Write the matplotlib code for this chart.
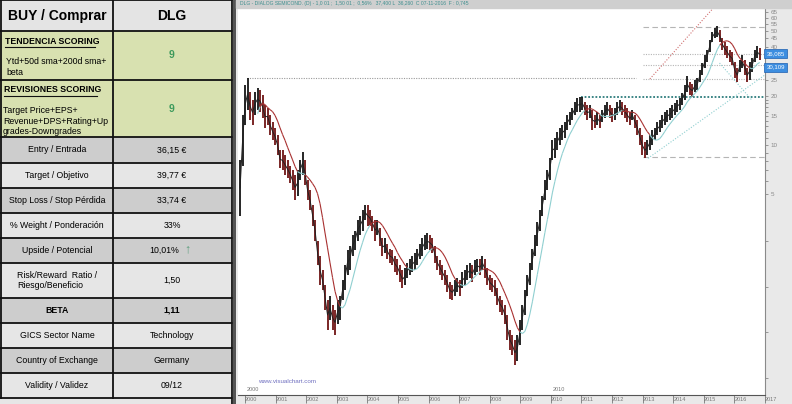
import numpy as np
import pandas as pd
import matplotlib
matplotlib.use('Agg')
import matplotlib.pyplot as plt
import matplotlib.dates as mdates
from matplotlib.collections import LineCollection
from matplotlib.patches import Rectangle

plt.rcParams['font.family'] = ['Liberation Sans', 'DejaVu Sans']

# ---- ficha (tabla izquierda) ----
header = ['BUY / Comprar', 'DLG']
score_titles = ['TENDENCIA SCORING', 'REVISIONES SCORING']
score_notes = ['Ytd+50d sma+200d sma+\nbeta',
               'Target Price+EPS+\nRevenue+DPS+Rating+Up\ngrades-Downgrades']
score_values = ['9', '9']
row_labels = ['Entry / Entrada', 'Target / Objetivo', 'Stop Loss / Stop Pérdida',
              '% Weight / Ponderación', 'Upside / Potencial',
              'Risk/Reward  Ratio /\nRiesgo/Beneficio', 'BETA', 'GICS Sector Name',
              'Country of Exchange', 'Validity / Validez']
row_values = ['36,15 €', '39,77 €', '33,74 €', '33%', '10,01%', '1,50', '1,11',
              'Technology', 'Germany', '09/12']

# ---- precio mensual aprox. (max / min) ----
lows = [3.7, 7.5, 13.3, 16.4, 14.2, 13.3, 15.3, 16.4, 15.9, 14.6,
        12.7, 13.3, 11.5, 10.7, 10.0, 8.7, 7.2, 7.0, 6.6, 6.3,
        5.9, 5.3, 4.6, 4.9, 6.1, 6.6, 5.7, 4.6, 4.0, 3.2,
        2.6, 1.85, 1.4, 1.3, 0.98, 0.74, 0.85, 0.74, 0.69, 0.8,
        0.85, 1.13, 1.3, 1.6, 1.72, 2.1, 2.28, 2.6, 2.8, 3.0,
        3.5, 3.2, 3.2, 3.0, 2.6, 2.8, 2.4, 2.1, 2.2, 2.0,
        1.9, 1.85, 1.67, 1.6, 1.45, 1.33, 1.4, 1.53, 1.6, 1.67,
        1.72, 1.85, 2.0, 2.1, 2.28, 2.3, 2.28, 2.2, 1.9, 1.72,
        1.6, 1.49, 1.4, 1.27, 1.15, 1.13, 1.2, 1.27, 1.2, 1.33,
        1.4, 1.49, 1.53, 1.45, 1.6, 1.67, 1.6, 1.72, 1.53, 1.4,
        1.3, 1.27, 1.2, 1.05, 0.95, 0.91, 0.8, 0.64, 0.56, 0.52,
        0.45, 0.48, 0.6, 0.74, 0.91, 1.2, 1.4, 1.72, 2.1, 2.4,
        3.0, 3.7, 4.6, 5.3, 6.1, 8.1, 8.3, 9.3, 10.0, 10.7,
        11.0, 12.4, 13.3, 14.2, 15.3, 15.9, 15.9, 16.4, 15.3, 14.2,
        14.6, 12.4, 12.7, 13.3, 12.7, 13.8, 14.6, 15.3, 14.6, 13.8,
        14.2, 15.3, 15.9, 15.3, 14.6, 13.8, 13.3, 14.2, 12.7, 11.5,
        10.0, 8.7, 8.3, 8.7, 9.3, 10.0, 10.7, 11.5, 12.0, 12.7,
        13.3, 13.8, 14.2, 14.6, 15.3, 15.9, 16.4, 17.6, 18.9, 21.1,
        20.2, 19.7, 21.1, 21.7, 24.3, 26.8, 29.6, 32.2, 37.1, 42.7,
        45.1, 45.8, 42.7, 38.1, 35.5, 34.0, 32.2, 30.9, 25.7, 24.3,
        28.0, 29.6, 26.8, 24.3, 25.0, 28.0, 32.2, 34.0, 33.1]
highs = [8.1, 15.3, 23.3, 25.7, 21.1, 18.9, 21.1, 22.3, 21.7, 20.2,
         17.6, 16.8, 15.3, 13.8, 12.7, 11.5, 9.3, 9.3, 8.7, 8.1,
         7.5, 7.0, 6.6, 7.0, 8.1, 9.1, 8.1, 6.1, 5.3, 4.3,
         3.5, 2.6, 2.1, 1.72, 1.4, 1.13, 1.2, 1.05, 0.98, 1.13,
         1.2, 1.49, 1.85, 2.28, 2.4, 2.8, 3.0, 3.5, 3.7, 4.0,
         4.3, 4.3, 4.0, 3.7, 3.5, 3.5, 3.1, 2.7, 2.7, 2.5,
         2.3, 2.28, 2.1, 2.0, 1.85, 1.72, 1.76, 1.9, 2.0, 2.1,
         2.2, 2.3, 2.5, 2.7, 2.8, 2.9, 2.8, 2.7, 2.4, 2.1,
         1.98, 1.85, 1.72, 1.6, 1.45, 1.4, 1.49, 1.53, 1.49, 1.67,
         1.72, 1.85, 1.9, 1.85, 1.98, 2.0, 2.0, 2.1, 2.0, 1.76,
         1.6, 1.53, 1.49, 1.33, 1.2, 1.13, 1.05, 0.91, 0.74, 0.69,
         0.64, 0.69, 0.85, 1.05, 1.3, 1.6, 1.9, 2.3, 2.8, 3.4,
         4.0, 4.9, 6.1, 7.0, 8.3, 10.7, 11.0, 12.0, 12.7, 13.3,
         13.8, 15.3, 15.9, 16.8, 18.3, 19.4, 19.7, 19.7, 18.3, 17.6,
         17.6, 16.4, 15.3, 15.9, 15.3, 16.4, 17.6, 18.3, 17.6, 16.8,
         16.8, 18.3, 18.9, 18.3, 17.6, 16.8, 15.9, 16.4, 15.3, 14.2,
         12.7, 11.5, 10.4, 10.7, 11.5, 12.4, 12.7, 13.8, 14.2, 15.3,
         15.9, 16.4, 16.8, 17.6, 18.1, 18.9, 19.4, 20.8, 23.3, 26.4,
         24.3, 23.6, 25.0, 25.7, 28.8, 31.8, 35.5, 38.1, 43.9, 49.1,
         52.0, 53.4, 50.5, 45.1, 42.7, 40.3, 38.1, 37.1, 32.2, 29.6,
         33.1, 35.5, 33.1, 29.6, 32.2, 34.0, 38.1, 40.3, 39.2]
first_date, last_date = '1999-11-03', '2016-10-30'

# lineas de analisis dibujadas en el grafico
old_top = ('2000-01-24', '2012-10-12', 25.7)
support = ('2010-12-24', '2016-12-31', 19.7)
fib_start, fib_end = '2013-01-05', '2016-12-31'
fib_levels = [52.7, 36.0, 30.9, 25.4, 8.5]
fib_dashed = [True, False, False, False, True]
red_trend = (['2013-03-28', '2015-05-05'], [25.4, 69.9])
cyan_trend1 = (['2013-03-05', '2016-12-28'], [8.3, 26.8])
cyan_trend2 = (['2015-07-08', '2016-07-26'], [31.8, 18.9])
last_boxes = [(36.3, '36,085'), (30.0, '30,109')]
year_ticks = list(range(2000, 2018))
price_ticks = [5, 10, 15, 20, 25, 30, 35, 40, 45, 50, 55, 60, 65]
hidden_ticks = [30, 35]  # tapados por las cajas de ultimo precio

W, H = 792, 404
fig = plt.figure(figsize=(W / 100, H / 100), dpi=100, facecolor='#e9e9e9')

# ---------------- tabla ----------------
tab = fig.add_axes([0, 0, 236 / W, 1])
tab.set_xlim(0, 236)
tab.set_ylim(H, 0)
tab.axis('off')
edges = [0, 31, 80, 137, 163, 188, 213, 238, 263, 298, 323, 348, 373, 398]
green = '#d8e1b0'
fills = ['#e4e4e4', green, green] + ['#cdcdcd' if i % 2 == 0 else '#e6e6e6' for i in range(10)]
tab.add_patch(Rectangle((0, 0), 236, H, color='#e6e6e6', zorder=0))
for i in range(len(edges) - 1):
    tab.add_patch(Rectangle((0, edges[i]), 232, edges[i + 1] - edges[i],
                            facecolor=fills[i], edgecolor='none', zorder=1))
for y in edges:
    tab.plot([0, 232], [y, y], color='#111111', lw=1.3, zorder=3)
tab.plot([0.7, 0.7], [0, 398], color='#111111', lw=1.3, zorder=3)
tab.plot([113, 113], [0, 398], color='#111111', lw=1.3, zorder=3)
tab.plot([232, 232], [0, H], color='#111111', lw=1.3, zorder=3)
tab.add_patch(Rectangle((233, 0), 3, H, color='#555555', zorder=3))

tab.text(57, 16, header[0], ha='center', va='center', fontsize=10, fontweight='bold')
tab.text(172, 16, header[1], ha='center', va='center', fontsize=10, fontweight='bold')

score_title_y = [41, 90]
score_note_y = [67, 121]
under = [(5, 95, 47), (4, 97, 96)]
for k in range(2):
    tab.text(5 if k == 0 else 4, score_title_y[k], score_titles[k], ha='left', va='center',
             fontsize=6.3, fontweight='bold')
    x0, x1, yu = under[k]
    tab.plot([x0, x1], [yu, yu], color='#111111', lw=0.8, zorder=4)
    tab.text(6 if k == 0 else 3, score_note_y[k], score_notes[k],
             ha='left', va='center', fontsize=6.3, linespacing=1.25)
    tab.text(172, (edges[k + 1] + edges[k + 2]) / 2, score_values[k], ha='center',
             va='center', fontsize=7.5, fontweight='bold', color='#3d9a5c')

for i, (lab, val) in enumerate(zip(row_labels, row_values)):
    yc = (edges[i + 3] + edges[i + 4]) / 2
    bold = 'bold' if lab == 'BETA' else 'normal'
    tab.text(57, yc, lab, ha='center', va='center', fontsize=6.3, fontweight=bold,
             multialignment='left', linespacing=1.15)
    if lab.startswith('Upside'):
        tab.text(164, yc, val, ha='center', va='center', fontsize=6.3)
        tab.text(187, yc - 1, '↑', ha='center', va='center', fontsize=9,
                 color='#5f9f7f', fontweight='bold')
    else:
        tab.text(172, yc, val, ha='center', va='center', fontsize=6.3, fontweight=bold)

# ---------------- grafico ----------------
fig.patches.append(Rectangle((236 / W, 1 - 8 / H), 1 - 236 / W, 8 / H,
                             transform=fig.transFigure, color='#cfcfcf', zorder=0))
fig.text(240 / W, 1 - 4 / H,
         'DLG - DIALOG SEMICOND. (D) - 1,0 01 ;  1,50 01 ;  0,56%   37,400 L  36,260  C 07-11-2016  F : 0,745',
         fontsize=3.6, color='#3f8f8f', va='center', ha='left')

ax = fig.add_axes([238 / W, 9 / H, 527 / W, 387 / H])
ax.set_facecolor('white')
ax.set_yscale('log')
ax.set_ylim(0.296, 69)
ax.set_xlim(pd.Timestamp('1999-10-09'), pd.Timestamp('2016-12-31'))

dates = pd.date_range(first_date, last_date, periods=len(highs))
lo = np.array(lows)
hi = np.array(highs)
mid = np.sqrt(lo * hi)
up = np.r_[True, mid[1:] >= mid[:-1]]
bar_colors = np.where(up, '#151515', '#701515')
ax.vlines(dates, lo, hi, colors=bar_colors, lw=1.3, zorder=3)
ax.plot(dates, mid, color='#202020', lw=0.7, zorder=3)

# media movil coloreada (roja si queda sobre el precio)
ma = pd.Series(mid).rolling(8).mean().to_numpy()
xn = mdates.date2num(dates)
segs, cols = [], []
for i in range(1, len(ma)):
    if np.isnan(ma[i - 1]):
        continue
    segs.append([(xn[i - 1], ma[i - 1]), (xn[i], ma[i])])
    cols.append('#a83030' if ma[i] > mid[i] else '#8fcfd0')
ax.add_collection(LineCollection(segs, colors=cols, lw=0.8, zorder=4))

# lineas de analisis
ax.hlines(old_top[2], pd.Timestamp(old_top[0]), pd.Timestamp(old_top[1]),
          colors='#9a9a9a', lw=0.8, linestyles=(0, (1, 1.2)), zorder=2)
ax.hlines(support[2], pd.Timestamp(support[0]), pd.Timestamp(support[1]),
          colors='#2c7c7c', lw=1.3, linestyles=(0, (1, 1)), zorder=2)
for lev, dash in zip(fib_levels, fib_dashed):
    ax.hlines(lev, pd.Timestamp(fib_start), pd.Timestamp(fib_end), colors='#b5b5b5',
              lw=0.8, linestyles=(0, (5, 3)) if dash else (0, (1, 1.2)), zorder=2)
ax.plot(pd.to_datetime(red_trend[0]), red_trend[1], color='#d07070', lw=0.8,
        ls=(0, (1, 1.5)), zorder=2)
for tr in (cyan_trend1, cyan_trend2):
    ax.plot(pd.to_datetime(tr[0]), tr[1], color='#8fcfd0', lw=0.8, ls=(0, (1, 1.5)), zorder=2)

# ejes
for s in ['top', 'left']:
    ax.spines[s].set_visible(False)
ax.spines['right'].set_color('#8a8a8a')
ax.spines['bottom'].set_color('#555555')
ax.yaxis.tick_right()
ax.set_yticks(price_ticks)
ax.set_yticklabels(['' if t in hidden_ticks else str(t) for t in price_ticks])
ax.set_yticks([2.6, 1.35, 0.72, 0.375] + [6, 7, 8, 9, 11, 12, 13, 14, 16, 17, 18, 19],
              minor=True)
ax.yaxis.set_minor_formatter(plt.NullFormatter())
ax.tick_params(axis='y', which='both', direction='out', length=2.5, width=0.6,
               colors='#888888', labelsize=4.5, pad=1.5)
ax.set_xticks([pd.Timestamp(f'{y}-01-01') for y in year_ticks])
ax.set_xticklabels([str(y) for y in year_ticks])
ax.tick_params(axis='x', direction='out', length=6, width=0.6, colors='#777777',
               labelsize=4, pad=-4.5)
for lab in ax.get_xticklabels():
    lab.set_horizontalalignment('left')
ax.grid(False)

for yy in (2000, 2010):
    ax.annotate(str(yy), xy=(pd.Timestamp(f'{yy}-01-01'), 0.296), xytext=(1, 3),
                textcoords='offset points', fontsize=4, color='#777777')
ax.text(0.038, 0.03, 'www.visualchart.com', transform=ax.transAxes, fontsize=4.5,
        color='#7070c0')

for price, txt in last_boxes:
    ax.text(1.003, price, txt, transform=ax.get_yaxis_transform(), fontsize=4.3,
            color='white', ha='left', va='center', clip_on=False, zorder=6,
            bbox=dict(boxstyle='square,pad=0.35', facecolor='#3d8ee0', edgecolor='#1d5fb0',
                      lw=0.5))

fig.savefig('out.png', dpi=100, facecolor=fig.get_facecolor())
